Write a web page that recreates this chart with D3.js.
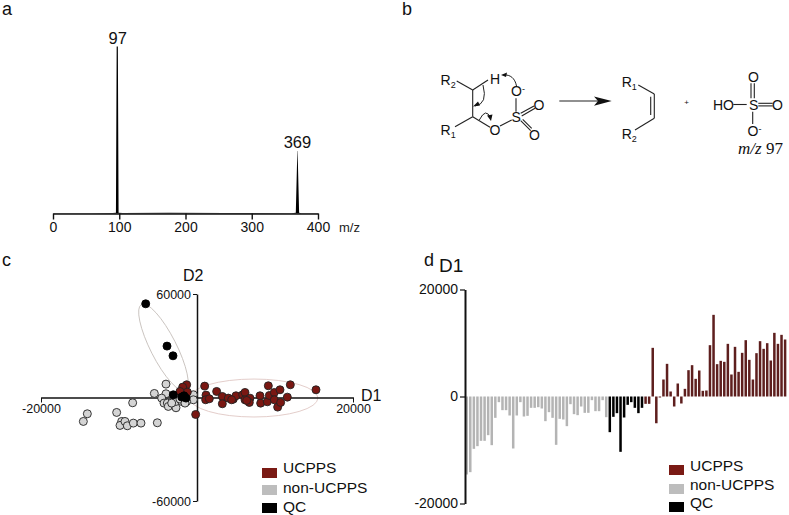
<!DOCTYPE html>
<html>
<head>
<meta charset="utf-8">
<script src="https://cdn.jsdelivr.net/npm/d3@7"></script>
<style>
  body { margin: 0; background: #fff; }
  svg { display: block; font-family: "Liberation Sans", Arial, sans-serif; }
  .domain, .tick line { stroke: #111; }
  .tick text { fill: #111; }
</style>
</head>
<body>
<div id="viz"></div>
<script>
const width = 789,
    height = 515;

// panel a, mass spectrum
const spectrumMz = [0, 58, 90, 95, 96.1, 97.9, 99, 105, 175, 260, 360, 366.5, 368.8, 369.2, 371.5, 375, 400];
const spectrumIntensity = [0.2, 0.2, 0.3, 0.5, 100, 100, 0.5, 0.3, 0.4, 0.3, 0.2, 0.5, 37.5, 37.5, 0.5, 0.2, 0.2];
const peakMz = [97, 369];
const peakIntensity = [100, 37.5];
const mzTicks = [0, 100, 200, 300, 400];

// panel c, score plot
const ucppsX = [983, -1325, -1838, -1240, -2180, -172, 2520, 1153, 1110, 1580, 3247, 3247, 4016, 4657, 4999, 4443, 5854, 6153, 6153, 6794, 6709, 6370, 8076, 8162, 9016, 9144, 9273, 9914, 9914, 10640, 10341, 10725, 11580, 11964, 15255];
const ucppsY = [6602, 7375, 6023, 3125, 3511, -9820, 3511, 1386, -1319, -738, 614, -3637, -354, -932, 1000, -1319, 1569, 2921, -1329, -363, -2875, -1700, 990, -3261, -2488, 6785, 1183, 2921, -1329, 4467, -5579, -2875, 217, 7365, 4467];
const nonUcppsX = [-3975, -5470, -3975, -4530, -4231, -3804, -3676, -2693, -2693, -471, -471, -1325, -1966, -8248, -10299, -14059, -14572, -9658, -9871, -9231, -8931, -8162, -7180, -5086, -3249, -2180, -1539];
const nonUcppsY = [7761, 2352, 2159, -354, -3251, -3251, -5183, -5956, -2285, 1579, -1319, -2285, -2285, -3058, -8660, -9433, -13877, -13877, -16195, -13877, -16389, -14843, -14843, -14650, -3251, -932, -3251];
const qcX = [-6577, -3846, -3077, -3038, -1961, -1410, -1667];
const qcY = [54318, 29797, 24173, 1565, 232, -348, 985];

// panel d, loadings on D1
const ucppsBars = [-1371, -1371, 9096, -5000, -187, 3177, 6105, 935, -1869, 2430, -1308, 1433, 4922, 5856, 3302, 4859, 1059, 1121, 9594, 15264, 6043, 6666, 6479, 9843, 4112, 9283, 4610, 8161, 10529, 6853, 3177, 8099, 10342, 8909, 9968, 6728, 11899, 9843, 11526, 10653];
const nonUcppsBars = [-14578, -14142, -9781, -9283, -8286, -8286, -7227, -9096, -3987, -1059, -2554, -2554, -3551, -9719, -3551, -1059, -3738, -3613, -2118, -2118, -1994, -2243, -4610, -2928, -3987, -9034, -4174, -4299, -5545, -1433, -3302, -3489, -1869, -3053, -3053, -685, -2741, -2741, -685, -3863];
const qcBars = [-6666, -3800, -3115, -10342, -3925, -1558, -1059, -2118, -3115, -2118];

const groupNames = ["UCPPS", "non-UCPPS", "QC"];
const groupColors = ["#7a1a14", "#bdbdbd", "#000000"];

const svg = d3.select("#viz").append("svg")
    .attr("width", width)
    .attr("height", height);

function panelLabel(text, x, y) {
    svg.append("text").attr("x", x).attr("y", y)
        .attr("font-size", 18).attr("fill", "#111").text(text);
}
panelLabel("a", 2, 15);
panelLabel("b", 402, 15);
panelLabel("c", 2, 266);
panelLabel("d", 424, 266);

drawSpectrum();
drawMechanism();
drawScores();
drawBars();

function drawSpectrum() {
    const x = d3.scaleLinear().domain([0, 400]).range([53, 318]);
    const y = d3.scaleLinear().domain([0, 100]).range([213.5, 46.5]);

    const area = d3.area()
        .x(d => x(d[0]))
        .y0(y(0))
        .y1(d => y(d[1]));

    svg.append("path")
        .datum(d3.zip(spectrumMz, spectrumIntensity))
        .attr("fill", "#000")
        .attr("d", area);

    const axis = svg.append("g")
        .attr("transform", "translate(0," + y(0) + ")")
        .call(d3.axisBottom(x).tickValues(mzTicks).tickSize(6).tickSizeOuter(0).tickPadding(3));
    axis.selectAll(".domain, .tick line").attr("stroke-width", 1.4);
    axis.selectAll("text").attr("font-size", 14).attr("font-family", "Liberation Sans");

    svg.append("text").attr("x", 339).attr("y", 232)
        .attr("font-size", 13).attr("fill", "#222").text("m/z");

    svg.selectAll(".peak")
        .data(peakMz)
        .enter().append("text")
        .attr("class", "peak")
        .attr("x", (d, i) => x(d) + (i == 0 ? 0.5 : 0))
        .attr("y", (d, i) => y(peakIntensity[i]) - 3)
        .attr("text-anchor", "middle")
        .attr("font-size", 16.5)
        .attr("fill", "#111")
        .text(d => d);
}

// the reaction scheme is a drawing, not data
function drawMechanism() {
    const g = svg.append("g").attr("fill", "#111");
    const bonds = [
        [456.7, 81, 472.7, 90], [472.7, 90, 472.7, 116.7], [472.7, 90, 488, 80], [472.7, 116.7, 455, 126.7],
        [472.7, 116.7, 490, 127.3], [500, 126, 511.7, 120], [516, 98.3, 516, 111.7],
        [520.7, 113.3, 534, 106], [521.7, 116, 535, 108.3], [520.7, 120.7, 530.7, 130.7], [522.7, 119.3, 531.7, 128.3],
        [559.3, 101, 600, 101],
        [638.3, 85, 654.3, 94], [654.3, 94, 654.3, 118.3], [650.7, 96.7, 650.7, 115], [654.3, 118.3, 635, 130],
        [733.3, 104.5, 746.7, 104.5], [758.3, 103.3, 772.7, 103.3], [758.3, 105.9, 772.7, 105.9],
        [751, 83.3, 751, 98.3], [754.3, 83.3, 754.3, 98.3], [752.7, 111.7, 752.7, 124]
    ];
    g.selectAll(".bond")
        .data(bonds)
        .enter().append("line")
        .attr("class", "bond")
        .attr("x1", d => d[0]).attr("y1", d => d[1])
        .attr("x2", d => d[2]).attr("y2", d => d[3])
        .attr("stroke", "#222").attr("stroke-width", 1.1);

    g.append("path").attr("d", "M594,96.5L611.7,101L594,105.7L598,101Z");

    const curves = ["M516.5,86C515,78 510,74.5 504,75", "M483,85Q488,104 475,106", "M479.3,120Q486,107 490.5,118"];
    g.selectAll(".curve")
        .data(curves)
        .enter().append("path")
        .attr("class", "curve")
        .attr("d", d => d)
        .attr("fill", "none").attr("stroke", "#222").attr("stroke-width", 1);
    g.append("path").attr("d", "M501,75L507,72.5L506,77Z");
    g.append("path").attr("d", "M473,106.5L478,101.5L480,105.5Z");
    g.append("path").attr("d", "M491,121L487,115.5L492.5,114.5Z");

    const atoms = [
        ["R", "2", 440.5, 85], ["R", "1", 440.5, 135], ["R", "1", 621.7, 86.5], ["R", "2", 621.7, 139],
        ["H", "", 490, 84], ["O", "", 489.5, 135], ["S", "", 511.5, 122], ["O", "-", 511, 95.5], ["O", "", 533.5, 110],
        ["O", "", 529, 140], ["HO", "", 713, 110], ["S", "", 749, 110], ["O", "", 772, 110],
        ["O", "", 748, 82], ["O", "-", 747.5, 135.5]
    ];
    atoms.forEach(a => {
        const t = g.append("text").attr("x", a[2]).attr("y", a[3]).attr("font-size", 14).text(a[0]);
        if (a[1]) t.append("tspan").attr("dy", a[1] == "-" ? -4 : 3).attr("font-size", 9).text(a[1]);
    });

    g.append("text").attr("x", 686.7).attr("y", 104.5).attr("text-anchor", "middle").attr("font-size", 8).text("+");

    const mz = g.append("text").attr("x", 738).attr("y", 154)
        .attr("font-family", "Liberation Serif").attr("font-size", 17);
    mz.append("tspan").attr("font-style", "italic").text("m/z");
    mz.append("tspan").text(" 97");
}

function drawScores() {
    const x = d3.scaleLinear().domain([-20000, 20000]).range([41, 353]);
    const y = d3.scaleLinear().domain([-60000, 60000]).range([501, 294]);

    // confidence ellipses, centre and radii in data units
    const ellipseX = [7300, -4300];
    const ellipseY = [-300, 29000];
    const ellipseRx = [8200, 6200];
    const ellipseRy = [11000, 7500];
    const ellipseTilt = [0, 63];
    const ellipseStroke = ["#dcc0bc", "#c4bdb8"];

    svg.selectAll(".ellipse")
        .data(ellipseX)
        .enter().append("ellipse")
        .attr("class", "ellipse")
        .attr("rx", (d, i) => x(ellipseRx[i]) - x(0))
        .attr("ry", (d, i) => y(0) - y(ellipseRy[i]))
        .attr("transform", (d, i) => "translate(" + x(d) + "," + y(ellipseY[i]) + ") rotate(" + ellipseTilt[i] + ")")
        .attr("fill", "none")
        .attr("stroke", (d, i) => ellipseStroke[i])
        .attr("stroke-width", 0.8);

    const xAxis = svg.append("g")
        .attr("transform", "translate(0," + y(0) + ")")
        .call(d3.axisBottom(x).tickValues([-20000, 20000]).tickSize(5).tickSizeOuter(0).tickFormat(d => d).tickPadding(2));
    const yAxis = svg.append("g")
        .attr("transform", "translate(" + x(0) + ",0)")
        .call(d3.axisLeft(y).tickValues([-60000, 60000]).tickSize(4).tickSizeOuter(0).tickFormat(d => d).tickPadding(2));
    svg.selectAll("g .tick text").attr("font-family", "Liberation Sans");
    xAxis.selectAll("text").attr("font-size", 12.5);
    yAxis.selectAll("text").attr("font-size", 12.5);
    xAxis.select(".domain").attr("stroke-width", 1.5);
    yAxis.select(".domain").attr("stroke-width", 1.5);

    svg.append("text").attr("x", 361).attr("y", 401).attr("font-size", 16).attr("fill", "#111").text("D1");
    svg.append("text").attr("x", 183).attr("y", 281).attr("font-size", 16).attr("fill", "#111").text("D2");

    const groups = [
        [nonUcppsX, nonUcppsY, "#d4d4d4", "#222"],
        [ucppsX, ucppsY, "#7a1712", "#222"],
        [qcX, qcY, "#000", "#000"]
    ];
    groups.forEach(g => {
        svg.append("g").selectAll("circle")
            .data(d3.zip(g[0], g[1]))
            .enter().append("circle")
            .attr("cx", d => x(d[0]))
            .attr("cy", d => y(d[1]))
            .attr("r", 4)
            .attr("fill", g[2])
            .attr("stroke", g[3])
            .attr("stroke-width", 0.9);
    });

    drawLegend(262, 283, [473, 490, 508], [473, 493, 512]);
}

function drawBars() {
    const values = nonUcppsBars.concat(qcBars, ucppsBars);
    const colors = nonUcppsBars.map(() => "#b4b4b4")
        .concat(qcBars.map(() => "#000"), ucppsBars.map(() => "#5e1f1e"));

    const x = d3.scaleBand().domain(d3.range(values.length)).range([465.45, 786.35]).paddingInner(0.3);
    const y = d3.scaleLinear().domain([-20000, 20000]).range([503.5, 289.5]);

    svg.append("g").selectAll("rect")
        .data(values)
        .enter().append("rect")
        .attr("x", (d, i) => x(i))
        .attr("y", d => y(Math.max(0, d)))
        .attr("width", x.bandwidth())
        .attr("height", d => Math.abs(y(d) - y(0)))
        .attr("fill", (d, i) => colors[i]);

    const yAxis = svg.append("g")
        .attr("transform", "translate(465,0)")
        .call(d3.axisLeft(y).tickValues([-20000, 0, 20000]).tickSize(5).tickSizeOuter(0).tickFormat(d => d).tickPadding(2));
    yAxis.select(".domain").attr("stroke-width", 2);
    yAxis.selectAll(".tick line").attr("stroke-width", 1.2);
    yAxis.selectAll("text").attr("font-size", 14).attr("font-family", "Liberation Sans");

    svg.append("text").attr("x", 439).attr("y", 272).attr("font-size", 19).attr("fill", "#111").text("D1");

    drawLegend(669, 690, [470, 489, 507], [471, 490, 508]);
}

function drawLegend(boxX, textX, boxY, textY) {
    const g = svg.append("g");
    g.selectAll("rect")
        .data(groupNames)
        .enter().append("rect")
        .attr("x", boxX)
        .attr("y", (d, i) => boxY[i] - 5)
        .attr("width", 15)
        .attr("height", 10)
        .attr("fill", (d, i) => groupColors[i]);
    g.selectAll("text")
        .data(groupNames)
        .enter().append("text")
        .attr("x", textX)
        .attr("y", (d, i) => textY[i])
        .attr("font-size", 15.5)
        .attr("fill", "#111")
        .text(d => d);
}
</script>
</body>
</html>
